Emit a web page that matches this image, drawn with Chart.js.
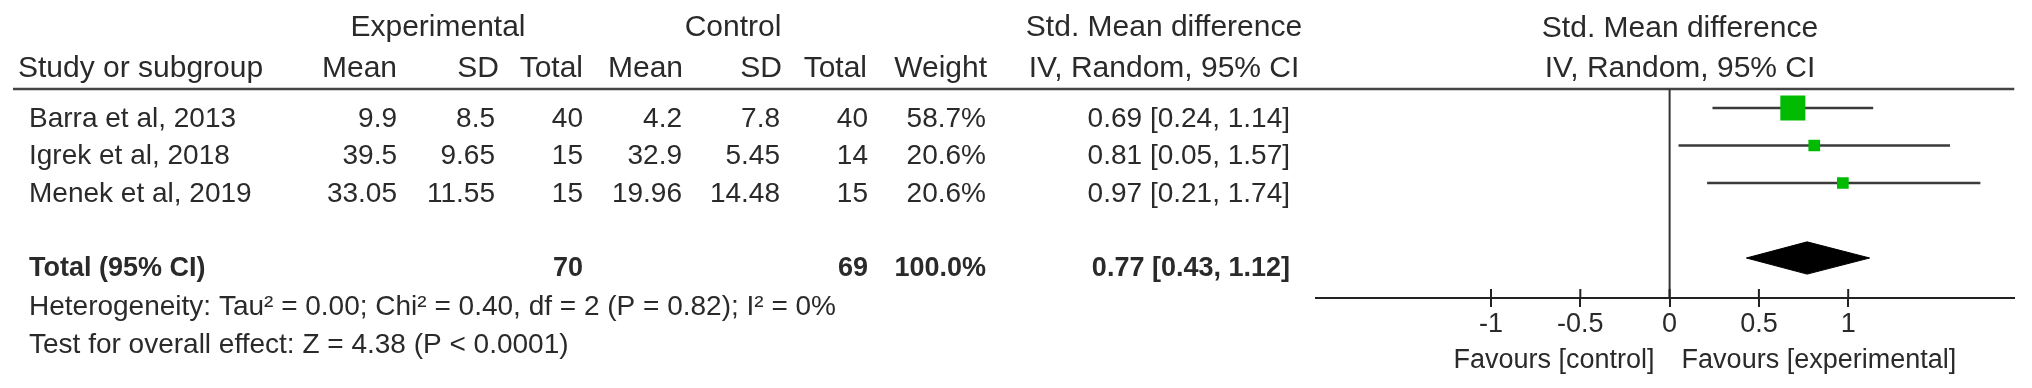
<!DOCTYPE html>
<html>
<head>
<meta charset="utf-8">
<script src="https://cdn.jsdelivr.net/npm/chart.js@4.4.1/dist/chart.umd.min.js"></script>
<style>
  html, body { margin: 0; padding: 0; background: #fff; }
  #wrap { width: 2032px; height: 388px; position: relative; }
</style>
</head>
<body>
<div id="wrap"><canvas id="forest"></canvas></div>
<script>
// study data
const studies = ['Barra et al, 2013', 'Igrek et al, 2018', 'Menek et al, 2019'];
const expMean = [9.9, 39.5, 33.05];
const expSD = [8.5, 9.65, 11.55];
const expTotal = [40, 15, 15];
const ctrlMean = [4.2, 32.9, 19.96];
const ctrlSD = [7.8, 5.45, 14.48];
const ctrlTotal = [40, 14, 15];
const weights = [58.7, 20.6, 20.6];
const smd = [0.69, 0.81, 0.97];
const ciLow = [0.24, 0.05, 0.21];
const ciHigh = [1.14, 1.57, 1.74];

// pooled result
const pooledWeight = 100.0;
const pooledSmd = 0.77;
const pooledLow = 0.43;
const pooledHigh = 1.12;
const heterogeneity = 'Heterogeneity: Tau\u00b2 = 0.00; Chi\u00b2 = 0.40, df = 2 (P = 0.82); I\u00b2 = 0%';
const overallTest = 'Test for overall effect: Z = 4.38 (P < 0.0001)';

const xTicks = [-1, -0.5, 0, 0.5, 1];

const FONT = '"Liberation Sans", Arial, sans-serif';
const TEXT = '#2a2a2a';
const totalRow = 4;

const fmtCI = (m, lo, hi) => m.toFixed(2) + ' [' + lo.toFixed(2) + ', ' + hi.toFixed(2) + ']';

const forestPlugin = {
  id: 'forestTable',
  beforeDatasetsDraw(chart) {
    const ctx = chart.ctx;
    const xs = chart.scales.x;
    const area = chart.chartArea;
    ctx.save();
    // header rule
    ctx.strokeStyle = '#444';
    ctx.lineWidth = 2.5;
    ctx.beginPath();
    ctx.moveTo(13, area.top);
    ctx.lineTo(area.right, area.top);
    ctx.stroke();
    // line of no effect
    const x0 = xs.getPixelForValue(0);
    ctx.strokeStyle = '#333';
    ctx.lineWidth = 2;
    ctx.beginPath();
    ctx.moveTo(x0, area.top);
    ctx.lineTo(x0, area.bottom);
    ctx.stroke();
    // upper halves of tick marks
    ctx.strokeStyle = '#222';
    xs.ticks.forEach(t => {
      const px = xs.getPixelForValue(t.value);
      ctx.beginPath();
      ctx.moveTo(px, area.bottom - 9);
      ctx.lineTo(px, area.bottom);
      ctx.stroke();
    });
    ctx.restore();
  },
  afterDraw(chart) {
    const ctx = chart.ctx;
    const xs = chart.scales.x;
    ctx.save();
    ctx.fillStyle = TEXT;
    ctx.textBaseline = 'alphabetic';
    const put = (s, x, y, align, font) => {
      ctx.font = font;
      ctx.textAlign = align;
      ctx.fillText(String(s), x, y);
    };
    const hdr = '30px ' + FONT;
    const row = '28px ' + FONT;
    const bold = 'bold 27px ' + FONT;

    // group headers
    put('Experimental', 438, 36, 'center', hdr);
    put('Control', 733, 36, 'center', hdr);
    put('Std. Mean difference', 1164, 36, 'center', hdr);
    put('IV, Random, 95% CI', 1164, 77, 'center', hdr);
    put('Std. Mean difference', 1680, 37, 'center', hdr);
    put('IV, Random, 95% CI', 1680, 77, 'center', hdr);

    // column headers
    put('Study or subgroup', 18, 77, 'left', hdr);
    put('Mean', 397, 77, 'right', hdr);
    put('SD', 499, 77, 'right', hdr);
    put('Total', 583, 77, 'right', hdr);
    put('Mean', 683, 77, 'right', hdr);
    put('SD', 782, 77, 'right', hdr);
    put('Total', 867, 77, 'right', hdr);
    put('Weight', 987, 77, 'right', hdr);

    // study rows
    const base = [127, 164, 202];
    studies.forEach((s, i) => {
      const y = base[i];
      put(s, 29, y, 'left', row);
      put(expMean[i], 397, y, 'right', row);
      put(expSD[i], 495, y, 'right', row);
      put(expTotal[i], 583, y, 'right', row);
      put(ctrlMean[i], 682, y, 'right', row);
      put(ctrlSD[i], 780, y, 'right', row);
      put(ctrlTotal[i], 868, y, 'right', row);
      put(weights[i].toFixed(1) + '%', 986, y, 'right', row);
      put(fmtCI(smd[i], ciLow[i], ciHigh[i]), 1290, y, 'right', row);
    });

    // total row
    const sum = a => a.reduce((p, c) => p + c, 0);
    put('Total (95% CI)', 29, 276, 'left', bold);
    put(sum(expTotal), 583, 276, 'right', bold);
    put(sum(ctrlTotal), 868, 276, 'right', bold);
    put(pooledWeight.toFixed(1) + '%', 986, 276, 'right', bold);
    put(fmtCI(pooledSmd, pooledLow, pooledHigh), 1290, 276, 'right', bold);

    put(heterogeneity, 29, 315, 'left', row);
    put(overallTest, 29, 353, 'left', row);

    // favours labels
    const x0 = xs.getPixelForValue(0);
    put('Favours [control]', x0 - 15, 368, 'right', '27px ' + FONT);
    put('Favours [experimental]', x0 + 12, 368, 'left', '27px ' + FONT);
    ctx.restore();
  }
};

const ciSets = studies.map((s, i) => ({
  type: 'line',
  data: [{ x: ciLow[i], y: i }, { x: ciHigh[i], y: i }],
  borderColor: '#3a3a3a',
  borderWidth: 2.5,
  pointRadius: 0,
  showLine: true,
  fill: false,
  order: 2
}));

const squareSet = {
  type: 'scatter',
  data: studies.map((s, i) => ({ x: smd[i], y: i })),
  pointStyle: 'rect',
  backgroundColor: '#00bb00',
  borderWidth: 0,
  pointRadius: c => (4.5 + 0.35 * weights[c.dataIndex]) / Math.SQRT2,
  order: 0
};

const diamondSet = {
  type: 'line',
  data: [
    { x: pooledLow, y: totalRow },
    { x: pooledSmd, y: totalRow - 0.43 },
    { x: pooledHigh, y: totalRow },
    { x: pooledSmd, y: totalRow + 0.43 },
    { x: pooledLow, y: totalRow }
  ],
  borderColor: '#000',
  backgroundColor: '#000',
  borderWidth: 1,
  pointRadius: 0,
  tension: 0,
  showLine: true,
  fill: 'shape',
  order: 1
};

new Chart(document.getElementById('forest'), {
  type: 'scatter',
  data: { datasets: [...ciSets, squareSet, diamondSet] },
  options: {
    responsive: true,
    maintainAspectRatio: false,
    animation: false,
    events: [],
    layout: { padding: { left: 1316, right: 13, top: 89, bottom: 0 } },
    plugins: { legend: { display: false }, tooltip: { enabled: false } },
    scales: {
      x: {
        type: 'linear',
        min: -1.98,
        max: 1.93,
        afterBuildTicks: scale => { scale.ticks = xTicks.map(v => ({ value: v })); },
        afterFit: scale => { scale.height = 90; },
        border: { display: true, color: '#222', width: 2 },
        grid: { drawOnChartArea: false, drawTicks: true, tickLength: 9, color: '#222', lineWidth: 2 },
        ticks: {
          padding: 1,
          color: TEXT,
          font: { family: FONT, size: 27 },
          maxRotation: 0,
          callback: v => String(v)
        }
      },
      y: {
        type: 'linear',
        display: false,
        reverse: true,
        min: -0.507,
        max: 5.067
      }
    }
  },
  plugins: [forestPlugin]
});
</script>
</body>
</html>
